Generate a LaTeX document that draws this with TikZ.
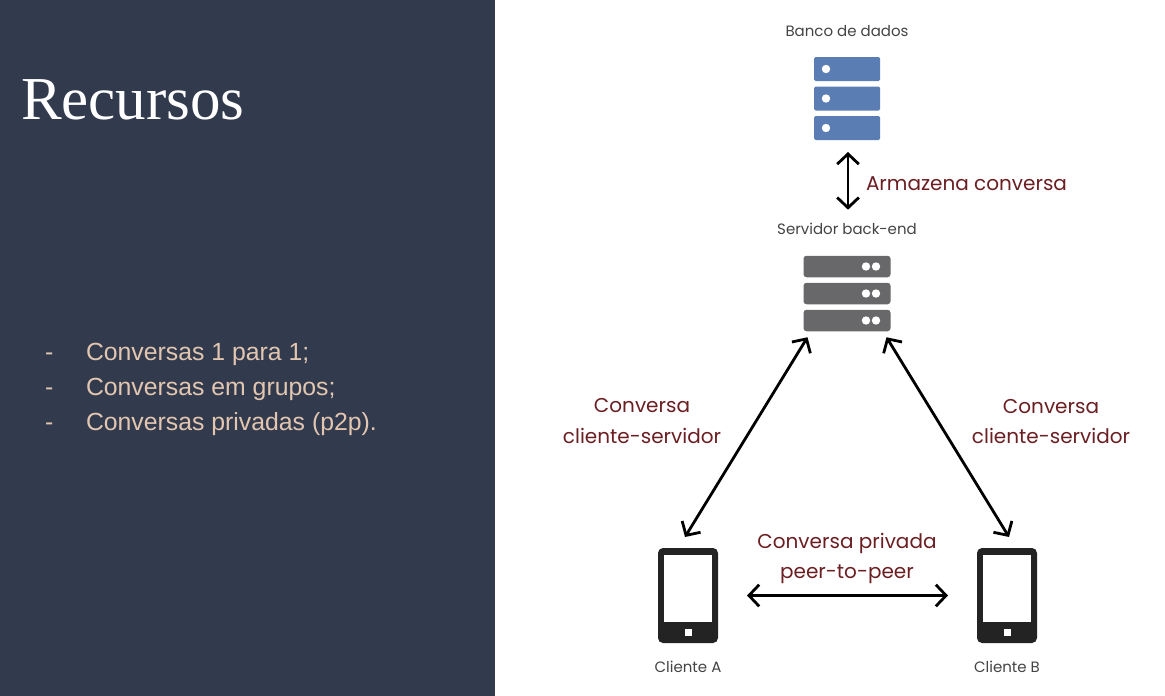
\documentclass[tikz,border=0pt]{standalone}
\usepackage{fontspec}
\setmainfont{Poppins}
\newfontfamily\titlefont{Liberation Serif}
\newfontfamily\listfont{Liberation Sans}
\usepackage{xcolor}
\usetikzlibrary{positioning,arrows.meta}
\definecolor{PanelSlate}{HTML}{323A4E}
\definecolor{ListTan}{HTML}{E2C6B0}
\definecolor{LabelWine}{HTML}{6B1F22}
\definecolor{DbBlue}{HTML}{5A7DB3}
\definecolor{SrvGrey}{HTML}{68686B}
\definecolor{PhoneBlack}{HTML}{232323}
\definecolor{CaptionGrey}{HTML}{444444}

\begin{document}
\begin{tikzpicture}[
x=1pt, y=-1pt,
every node/.style={inner sep=0pt, outer sep=0pt},
panel/.style={fill=PanelSlate, anchor=north west, minimum width=495pt, minimum height=696pt},
titletext/.style={font=\titlefont\fontsize{61}{61}\selectfont, text=white, anchor=base west},
listtext/.style={font=\listfont\fontsize{24.8}{28}\selectfont, text=ListTan, anchor=base west},
caption/.style={font=\fontsize{15}{18}\selectfont, text=CaptionGrey, align=center},
label/.style={font=\fontsize{20}{30.5}\selectfont, text=LabelWine, align=center},
dbrow/.style={fill=DbBlue, rounded corners=1.5pt, minimum width=66pt, minimum height=24pt},
srvrow/.style={fill=SrvGrey, rounded corners=3pt, minimum width=87pt, minimum height=21.5pt},
phone/.style={fill=PhoneBlack, rounded corners=5pt, minimum width=60pt, minimum height=95pt},
screen/.style={fill=white, minimum width=48pt, minimum height=67pt},
homekey/.style={fill=white, minimum size=7pt},
arrow/.style={{Straight Barb[length=3.6mm,width=7.6mm]}-{Straight Barb[length=3.6mm,width=7.6mm]}, line width=2.8pt, black}
]
\useasboundingbox (0,0) rectangle (1165,696);
\fill[white] (0,0) rectangle (1165,696);
\node[panel] (side) at (0,0) {};
\node[titletext] (title) at (21,119) {Recursos};
\foreach \n/\ypos/\txt in {1/360/{Conversas 1 para 1;},2/395/{Conversas em grupos;},3/430/{Conversas privadas (p2p).}} {
  \node[listtext] (dash\n) at (45,\ypos) {-};
  \node[listtext] (item\n) at (86,\ypos) {\txt};
}
% database
\node[dbrow] (db1) at (847,69) {};
\node[dbrow, below=5.5pt of db1] (db2) {};
\node[dbrow, below=5.5pt of db2] (db3) {};
\foreach \n in {1,2,3} \fill[white] ([xshift=12pt]db\n.west) circle (4.2);
\node[caption, above=20pt of db1] (dbcap) {Banco de dados};
% backend server
\node[srvrow] (srv1) at (847,266.5) {};
\node[srvrow, below=5.5pt of srv1] (srv2) {};
\node[srvrow, below=5.5pt of srv2] (srv3) {};
\foreach \n in {1,2,3} {
  \fill[white] ([xshift=-24.5pt]srv\n.east) circle (4.2);
  \fill[white] ([xshift=-14.5pt]srv\n.east) circle (4.2);
}
\node[caption, above=21.5pt of srv1] (srvcap) {Servidor back-end};
% clients
\node[phone] (cliA) at (688,595.5) {};
\node[screen] at ([yshift=7pt]cliA.center) (scrA) {};
\node[homekey, below=7pt of scrA] (keyA) {};
\node[caption, below=18pt of cliA] (capA) {Cliente A};
\node[phone] (cliB) at (1007,595.5) {};
\node[screen] at ([yshift=7pt]cliB.center) (scrB) {};
\node[homekey, below=7pt of scrB] (keyB) {};
\node[caption, below=18pt of cliB] (capB) {Cliente B};
% labels
\node[label, anchor=base west] (store) at (866,190) {Armazena conversa};
\node[label] (chatL) at (642,421) {Conversa\\cliente-servidor};
\node[label] (chatR) at (1051,421.5) {Conversa\\cliente-servidor};
\node[label] (chatP) at (847,558.5) {Conversa privada\\peer-to-peer};
% connectors
\draw[arrow] ([xshift=1pt,yshift=-12pt]db3.south) -- ([xshift=1pt,yshift=13pt]srvcap.north);
\draw[arrow] ([xshift=4pt,yshift=-6pt]srv3.south west) -- ([xshift=-3pt,yshift=11pt]cliA.north);
\draw[arrow] ([xshift=-4pt,yshift=-6pt]srv3.south east) -- ([xshift=2pt,yshift=11pt]cliB.north);
\draw[arrow] ([xshift=29pt]cliA.east) -- ([xshift=-29pt]cliB.west);
\end{tikzpicture}
\end{document}
